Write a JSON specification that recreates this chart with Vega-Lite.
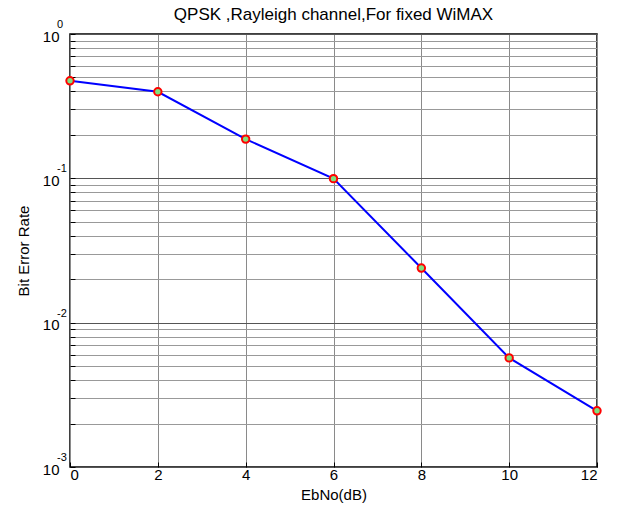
{
  "$schema": "https://vega.github.io/schema/vega-lite/v6.json",
  "width": 527,
  "height": 433,
  "autosize": "none",
  "padding": {"left": 70, "top": 34, "right": 21, "bottom": 48},
  "background": "white",
  "config": {
    "font": "Liberation Sans",
    "view": {"stroke": "black", "strokeWidth": 1.5},
    "axis": {"labelFont": "Liberation Sans", "titleFont": "Liberation Sans", "labelColor": "black", "titleColor": "black", "titleFontWeight": "normal", "domain": false}
  },
  "title": {"text": "QPSK ,Rayleigh channel,For fixed WiMAX", "fontSize": 17, "fontWeight": "normal", "font": "Liberation Sans", "color": "black", "offset": 8, "dy": 13, "anchor": "middle"},
  "data": {"values": [
    {"snr": 0, "ber": 0.474},
    {"snr": 2, "ber": 0.398},
    {"snr": 4, "ber": 0.187},
    {"snr": 6, "ber": 0.0995},
    {"snr": 8, "ber": 0.0239},
    {"snr": 10, "ber": 0.0057},
    {"snr": 12, "ber": 0.00245}
  ]},
  "encoding": {
    "x": {"field": "snr", "type": "quantitative", "scale": {"domain": [0, 12], "nice": false, "zero": false},
      "axis": {"title": "EbNo(dB)", "values": [0, 2, 4, 6, 8, 10, 12], "labelFontSize": 15, "titleFontSize": 15, "titlePadding": 5, "labelPadding": 5, "tickSize": -5, "tickColor": "black", "gridColor": "#8a8a8a", "gridWidth": 1, "gridOpacity": 1}},
    "y": {"field": "ber", "type": "quantitative", "scale": {"type": "log", "domain": [0.001, 1], "nice": false},
      "axis": {"title": "Bit Error Rate", "titleFontSize": 15, "titlePadding": 11, "labelFontSize": 15, "labelPadding": 16, "labelBaseline": "middle", "labelOffset": 2, "tickSize": -5, "tickColor": "black",
        "values": [0.001, 0.002, 0.003, 0.004, 0.005, 0.006, 0.007, 0.008, 0.009, 0.01, 0.02, 0.03, 0.04, 0.05, 0.06, 0.07, 0.08, 0.09, 0.1, 0.2, 0.3, 0.4, 0.5, 0.6, 0.7, 0.8, 0.9, 1],
        "labelExpr": "(datum.value == 1 || datum.value == 0.1 || datum.value == 0.01 || datum.value == 0.001) ? '10' : ''",
        "gridColor": {"condition": {"test": "datum.value == 1 || datum.value == 0.1 || datum.value == 0.01 || datum.value == 0.001", "value": "#555"}, "value": "#999"},
        "gridOpacity": 1, "gridWidth": 1}}
  },
  "layer": [
    {"mark": {"type": "line", "color": "#0000ff", "strokeWidth": 2}},
    {"mark": {"type": "point", "shape": "circle", "filled": false, "fill": "#7fe07f", "fillOpacity": 1, "stroke": "#ff0000", "strokeWidth": 2, "size": 55, "opacity": 1}},
    {
      "data": {"values": [
        {"snr": 0, "ber": 1, "exp": "0"},
        {"snr": 0, "ber": 0.1, "exp": "-1"},
        {"snr": 0, "ber": 0.01, "exp": "-2"},
        {"snr": 0, "ber": 0.001, "exp": "-3"}
      ]},
      "mark": {"type": "text", "align": "left", "baseline": "middle", "dx": -13, "dy": -9, "fontSize": 11, "font": "Liberation Sans", "color": "black"},
      "encoding": {
        "text": {"field": "exp", "type": "nominal"}
      }
    }
  ]
}
